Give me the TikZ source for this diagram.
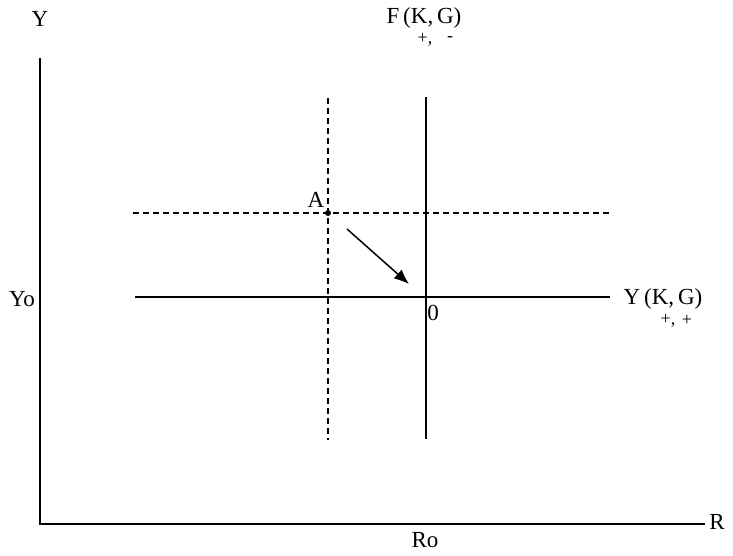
\documentclass[tikz,border=0pt]{standalone}
\usepackage{fontspec}
\setmainfont{Liberation Serif}
\usetikzlibrary{arrows.meta}
\begin{document}
\begin{tikzpicture}[x=1pt,y=-1pt,
  lbl/.style={font=\fontsize{23}{25}\selectfont, inner sep=0pt},
  sub/.style={font=\fontsize{18}{20}\selectfont, inner sep=0pt},
  axis/.style={line width=1.8pt},
  curve/.style={line width=1.4pt},
  dcurve/.style={line width=1.4pt, dash pattern=on 6pt off 4pt}]
\useasboundingbox (0,0) rectangle (733,556);
% axes
\coordinate (top) at (40,58);
\coordinate (orig) at (40,524);
\coordinate (rend) at (705,524);
\draw[axis] (top) -- (orig) -- (rend);
\node[lbl] (ylab) at (40,19) {Y};
\node[lbl] (rlab) at (717,522) {R};
\node[lbl] (ro) at (425,540) {Ro};
\node[lbl] (yo) at (22,299) {Yo};
% solid lines
\coordinate (h1) at (135,297);
\coordinate (h2) at (610,297);
\draw[curve] (h1) -- (h2);
\coordinate (v1) at (426,97);
\coordinate (v2) at (426,439);
\draw[curve] (v1) -- (v2);
% dashed lines
\coordinate (dh1) at (133,213);
\coordinate (dh2) at (612,213);
\draw[dcurve] (dh1) -- (dh2);
\coordinate (dv1) at (328,98);
\coordinate (dv2) at (328,440);
\draw[dcurve] (dv1) -- (dv2);
% point A
\node[circle, fill, inner sep=0pt, minimum size=6pt] (A) at (328,213) {};
\node[lbl] (alab) at (316,200) {A};
% arrow
\coordinate (a1) at (347,229);
\coordinate (a2) at (409,284);
\draw[line width=1.5pt, -{Latex[length=15pt,width=12pt]}] (a1) -- (a2);
\node[lbl] (zero) at (433,313) {0};
% labels
\node[lbl] (F) at (424,18) {F\,(K,\,G)};
\node[sub] (Fs1) at (425,40) {+,};
\node[sub] (Fs2) at (450,39) {-};
\node[lbl] (Y) at (663,299) {Y\,(K,\,G)};
\node[sub] (Ys1) at (668,321) {+,};
\node[sub] (Ys2) at (687,320) {+};
\end{tikzpicture}
\end{document}
